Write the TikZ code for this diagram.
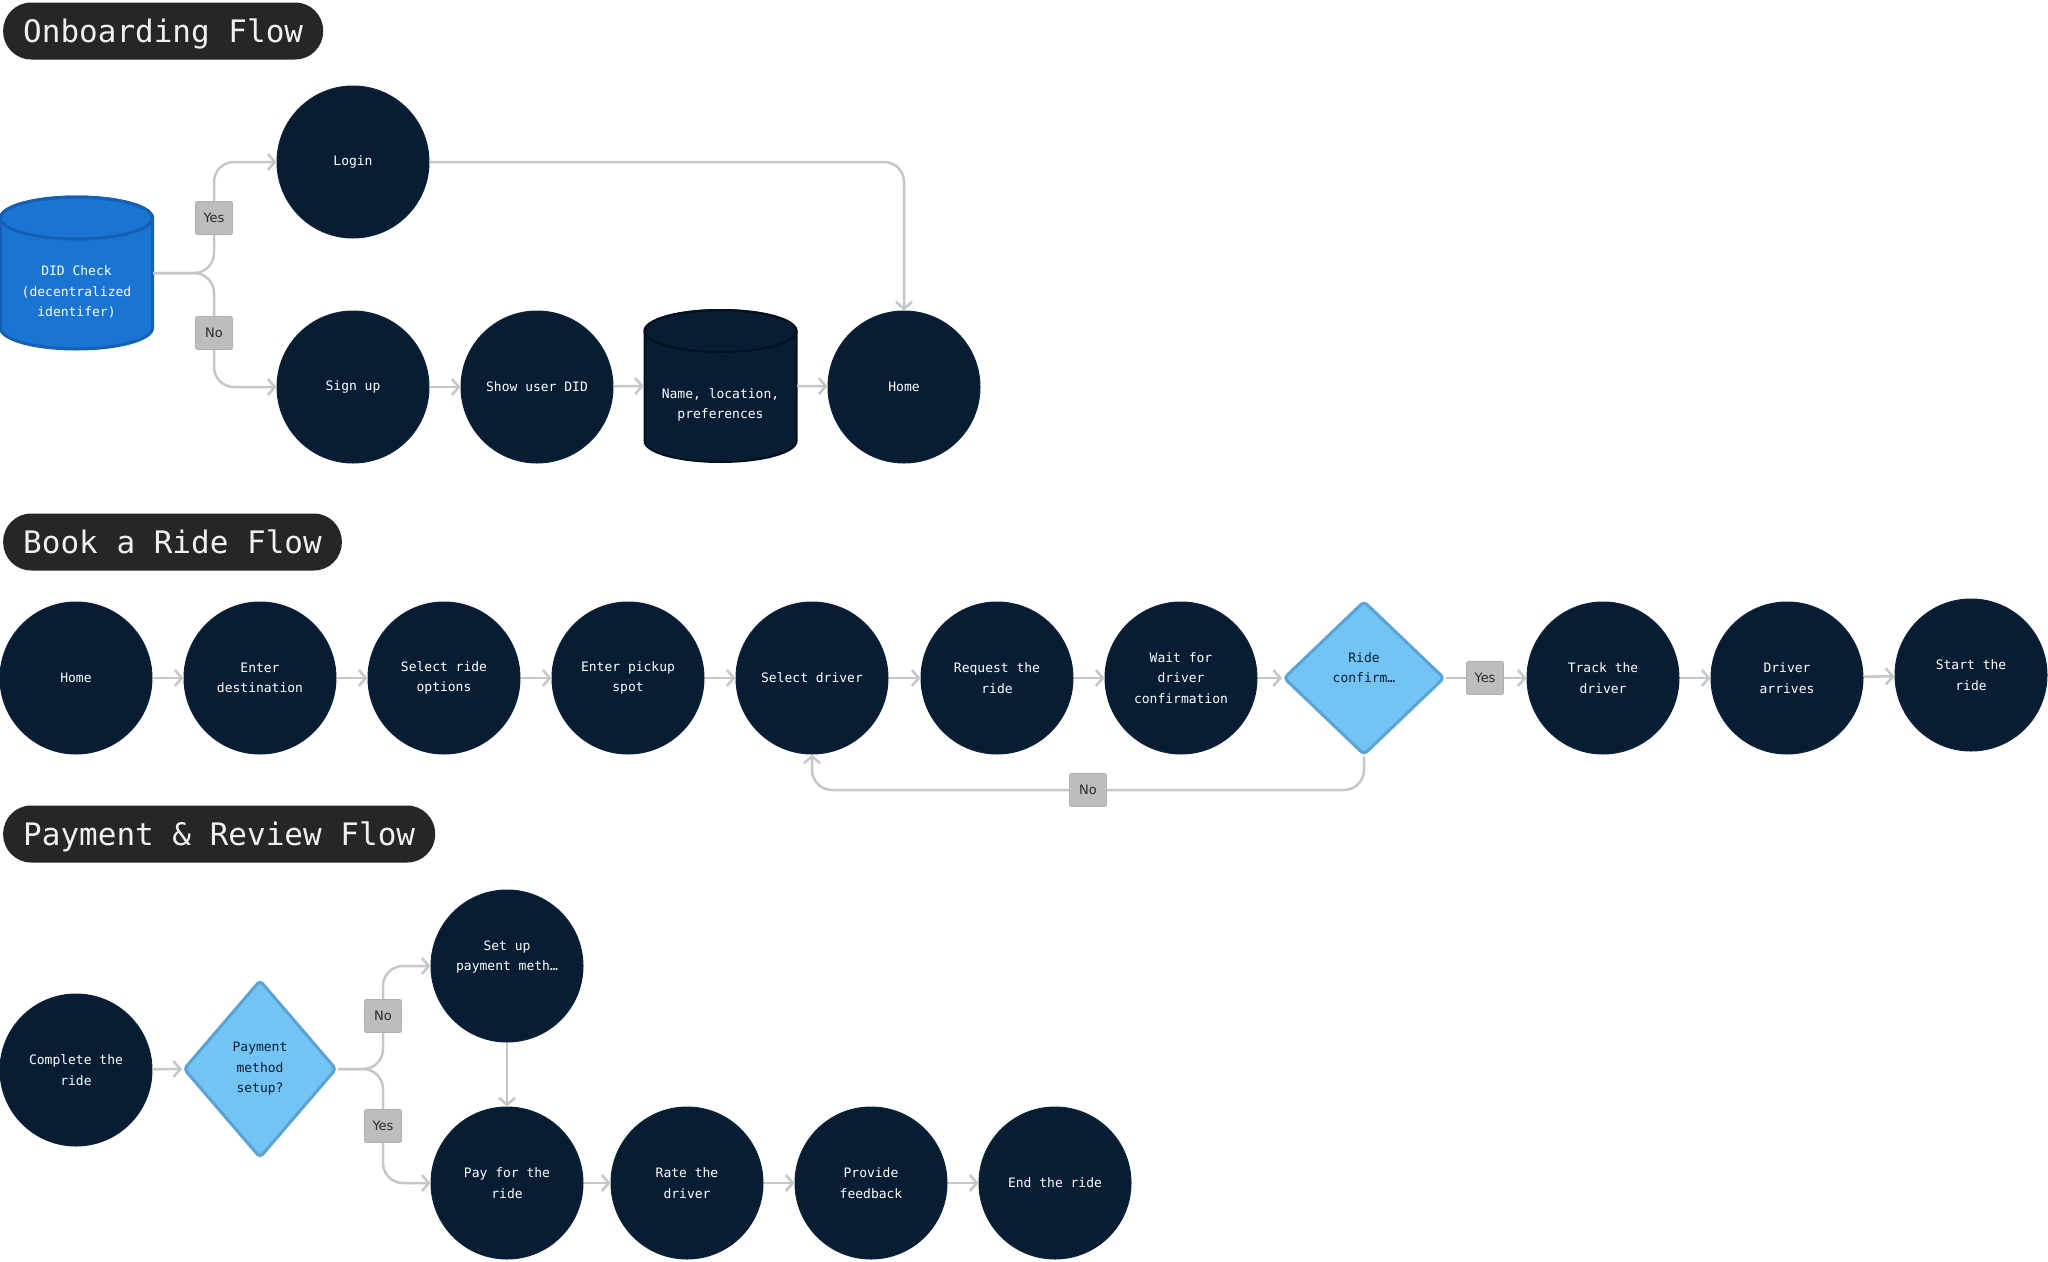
\documentclass[tikz,border=0pt]{standalone}
\usepackage{fontspec}
\setmonofont{DejaVu Sans Mono}
\newfontfamily\lblfont{DejaVu Sans}
\usetikzlibrary{shapes.geometric,arrows.meta}
\definecolor{navy}{HTML}{071D33}
\definecolor{navyedge}{HTML}{0C2238}
\definecolor{navydark}{HTML}{03111F}
\definecolor{didblue}{HTML}{1A74D2}
\definecolor{didedge}{HTML}{1560B4}
\definecolor{dfill}{HTML}{73C3F5}
\definecolor{dedge}{HTML}{5AA3D3}
\definecolor{linegray}{HTML}{C6C6C6}
\definecolor{lblgray}{HTML}{BDBDBD}
\definecolor{lbledge}{HTML}{B0B0B0}
\definecolor{lbltext}{HTML}{2A2A2A}
\definecolor{titlegray}{HTML}{262626}
\newcommand\drawcyl[6]{%
  \path[#6] (#1+#4,#2+#5) arc[start angle=0,end angle=-180,x radius=#4,y radius=#5]
    -- (#1-#4,#3-#5) arc[start angle=180,end angle=0,x radius=#4,y radius=#5] -- cycle;
  \draw[#6, fill=none] (#1,#2+#5) ellipse[x radius=#4, y radius=#5];
}
\begin{document}
\begin{tikzpicture}[x=1pt,y=-1pt,
  circ/.style={circle, fill=navy, draw=navyedge, line width=1pt, minimum size=152pt, inner sep=0pt,
    align=center, text=white, font=\ttfamily\fontsize{13}{20.5}\selectfont},
  dia/.style={diamond, fill=dfill, draw=dedge, line width=3pt, rounded corners=4pt, inner sep=0pt,
    align=center, text=navy, font=\ttfamily\fontsize{13}{20.5}\selectfont},
  anch/.style={rectangle, inner sep=0pt, minimum width=153pt, minimum height=152pt},
  cyltxt/.style={inner sep=0pt, align=center, text=white, font=\ttfamily\fontsize{13}{20.5}\selectfont},
  arr/.style={draw=linegray, line width=2.5pt, rounded corners=20pt, -{Straight Barb[length=7pt,width=16pt]}},
  lbl/.style={rectangle, fill=lblgray, draw=lbledge, line width=0.8pt, rounded corners=2pt,
    minimum width=37pt, minimum height=33pt, inner sep=0pt, text=lbltext,
    font=\lblfont\fontsize{13}{13}\selectfont},
  titlebox/.style={rectangle, rounded corners=28pt, fill=titlegray, text=white!94!black,
    minimum height=57pt, inner xsep=20pt, inner ysep=0pt, anchor=west,
    text height=22.5pt, text depth=0pt,
    font=\ttfamily\fontsize{31}{31}\selectfont}
]
\useasboundingbox (0,0) rectangle (2048,1261);

% ---------------- Titles
\node[titlebox] (t1) at (3,31) {Onboarding Flow};
\node[titlebox] (t2) at (3,542) {Book a Ride Flow};
\node[titlebox] (t3) at (3,834) {Payment \& Review Flow};

% ---------------- Onboarding
\drawcyl{76.5}{197}{349}{76}{21}{fill=didblue, draw=didedge, line width=3pt}
\node[anch] (did) at (76.5,273) {};
\node[cyltxt] (didt) at (76.5,292) {DID Check\\(decentralized\\identifer)};

\node[circ] (login) at (353,162) {Login};
\node[circ] (signup) at (353,387) {Sign up};
\node[circ] (showdid) at (537,387) {Show user DID};
\drawcyl{720.5}{310}{462}{76}{21}{fill=navy, draw=navydark, line width=2pt}
\node[anch] (namecyl) at (720.5,386) {};
\node[cyltxt] (namet) at (720.5,405) {Name, location,\\preferences};
\node[circ] (home1) at (904,387) {Home};

\coordinate (b1) at (214,273);
\draw[arr] (did.east) -- (b1) |- (login.west);
\draw[arr] (did.east) -- (b1) |- (signup.west);
\draw[arr] (login.east) -| (home1.north);
\draw[arr] (signup) -- (showdid);
\draw[arr] (showdid) -- (namecyl.west);
\draw[arr] (namecyl.east) -- (home1);
\node[lbl] (l1) at (214,218) {Yes};
\node[lbl] (l2) at (214,333) {No};

% ---------------- Book a Ride
\node[circ] (home2) at (76,678) {Home};
\node[circ] (dest) at (260,678) {Enter\\destination};
\node[circ] (opts) at (444,678) {Select ride\\options};
\node[circ] (pick) at (628,678) {Enter pickup\\spot};
\node[circ] (seldrv) at (812,678) {Select driver};
\node[circ] (req) at (997,678) {Request the\\ride};
\node[circ] (wait) at (1181,678) {Wait for\\driver\\confirmation};
\node[dia, minimum width=161pt, minimum height=154pt] (rc) at (1364,678) {Ride\\confirm…\\\mbox{}};
\node[circ] (track) at (1603,678) {Track the\\driver};
\node[circ] (arrives) at (1787,678) {Driver\\arrives};
\node[circ] (start) at (1971,675) {Start the\\ride};

\draw[arr] (home2) -- (dest);
\draw[arr] (dest) -- (opts);
\draw[arr] (opts) -- (pick);
\draw[arr] (pick) -- (seldrv);
\draw[arr] (seldrv) -- (req);
\draw[arr] (req) -- (wait);
\draw[arr] (wait) -- (rc.west);
\draw[arr] (rc.east) -- (track.west);
\draw[arr] (track) -- (arrives);
\draw[arr] (arrives) -- (start);
\coordinate (lp) at (1364,790);
\draw[arr] (rc.south) -- (lp) -| (seldrv.south);
\node[lbl] (l3) at (1485,678) {Yes};
\node[lbl] (l4) at (1088,790) {No};

% ---------------- Payment & Review
\node[circ] (complete) at (76,1070) {Complete the\\ride};
\node[dia, minimum width=153pt, minimum height=178pt] (pm) at (260,1069) {Payment\\method\\setup?};
\node[circ] (setup) at (507,966) {Set up\\payment meth…\\\mbox{}};
\node[circ] (pay) at (507,1183) {Pay for the\\ride};
\node[circ] (rate) at (687,1183) {Rate the\\driver};
\node[circ] (feed) at (871,1183) {Provide\\feedback};
\node[circ] (endr) at (1055,1183) {End the ride};

\coordinate (b2) at (383,1069);
\draw[arr] (complete) -- (pm.west);
\draw[arr] (pm.east) -- (b2) |- (setup.west);
\draw[arr] (pm.east) -- (b2) |- (pay.west);
\draw[arr] (setup) -- (pay);
\draw[arr] (pay) -- (rate);
\draw[arr] (rate) -- (feed);
\draw[arr] (feed) -- (endr);
\node[lbl] (l5) at (383,1016) {No};
\node[lbl] (l6) at (383,1126) {Yes};
\end{tikzpicture}
\end{document}
